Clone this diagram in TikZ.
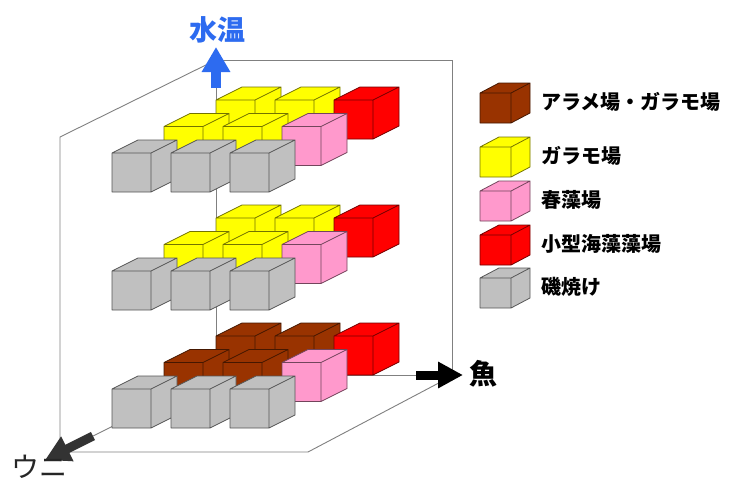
\documentclass[tikz,border=0pt]{standalone}
\usepackage{fontspec}
\newfontfamily\cjk{Noto Sans CJK JP}
\usetikzlibrary{arrows.meta}
\definecolor{cgray}{HTML}{C0C0C0}
\definecolor{cyellow}{HTML}{FFFF00}
\definecolor{cpink}{HTML}{FF99CC}
\definecolor{cred}{HTML}{FF0000}
\definecolor{cbrown}{HTML}{993300}
\definecolor{cblue}{HTML}{2D6BF0}
\definecolor{cline}{HTML}{808080}
\definecolor{cdark}{HTML}{333333}
\newcommand{\bigcube}[3]{%
  \begin{scope}[shift={(#1,#2)}]
    \filldraw[cubeline, fill=#3, draw=#3!45!black]
      (0,0) -- (39,0) -- (39,-39) -- (0,-39) -- cycle
      (0,-39) -- (26,-52) -- (65,-52) -- (39,-39) -- cycle
      (39,0) -- (65,-13) -- (65,-52) -- (39,-39) -- cycle;
  \end{scope}}
\newcommand{\legcube}[3]{%
  \begin{scope}[shift={(#1,#2)}]
    \filldraw[cubeline, fill=#3, draw=#3!45!black]
      (0,0) -- (31,0) -- (31,-30) -- (0,-30) -- cycle
      (0,-30) -- (19,-40) -- (50,-40) -- (31,-30) -- cycle
      (31,0) -- (50,-10) -- (50,-40) -- (31,-30) -- cycle;
  \end{scope}}
% one layer: #1 = y of front-bottom of front row; #2,#3 = back-row colours; #4,#5 = middle-row colours
\newcommand{\layer}[6]{%
  \bigcube{216}{#1-53}{#2}\bigcube{275}{#1-53}{#3}\bigcube{334}{#1-53}{cred}
  \bigcube{164}{#1-26.5}{#4}\bigcube{223}{#1-26.5}{#5}\bigcube{282}{#1-26.5}{cpink}
  \bigcube{112}{#1}{cgray}\bigcube{171}{#1}{cgray}\bigcube{230}{#1}{cgray}}
\tikzset{
  cubeline/.style={line width=0.8pt, line join=round},
  boxline/.style={draw=cline, line width=0.9pt},
  legtext/.style={anchor=west, inner sep=0pt, font=\cjk\bfseries\fontsize{20}{22}\selectfont},
  axislabel/.style={inner sep=0pt, font=\cjk\bfseries\fontsize{28}{30}\selectfont},
}
\begin{document}
\begin{tikzpicture}[x=1pt,y=-1pt]
\useasboundingbox[fill=white] (0,0) rectangle (737,480);
% coordinates
\coordinate (O) at (216,375);
\coordinate (Vb) at (216,88);
\coordinate (Vt) at (216,47);
\coordinate (Fb) at (416,375);
\coordinate (Ft) at (463,375);
\coordinate (Ub) at (93,436);
\coordinate (Ut) at (45,460);
\coordinate (B1) at (216,60);
\coordinate (B2) at (452,60);
\coordinate (B3) at (452,375);
\coordinate (L1) at (60,137);
\coordinate (L2) at (60,452);
\coordinate (F1) at (308,452);
\coordinate (F2) at (452,376);
% box
\draw[boxline] (B1) -- (B2) -- (B3);
\draw[boxline] (B1) -- (L1) -- (L2) -- (F1) -- (F2);
% axes
\draw[boxline] (O) -- (Vb);
\draw[boxline] (O) -- (Fb);
\draw[boxline] (O) -- (Ub);
\draw[cblue, line width=9.5pt, -{Triangle[width=27pt,length=25pt]}] (Vb) -- (Vt);
\draw[black, line width=9pt, -{Triangle[width=25pt,length=25pt]}] (Fb) -- (Ft);
\draw[cdark, line width=9pt, -{Triangle[width=26pt,length=25pt]}] (Ub) -- (Ut);
% cubes
\layer{192}{cyellow}{cyellow}{cyellow}{cyellow}{}
\layer{310}{cyellow}{cyellow}{cyellow}{cyellow}{}
\layer{428}{cbrown}{cbrown}{cbrown}{cbrown}{}
% axis labels
\node[axislabel, text=cblue] (tw) at (217,30) {水温};
\node[axislabel, text=black, anchor=west] (fish) at (469,374) {魚};
\node[inner sep=0pt, text=black!85, font=\cjk\fontsize{28}{30}\selectfont] (uni) at (40,467) {ウニ};
% legend
\legcube{480}{123}{cbrown}
\legcube{480}{177}{cyellow}
\legcube{480}{221}{cpink}
\legcube{480}{265}{cred}
\legcube{480}{308}{cgray}
\node[legtext] (l1) at (541,102) {アラメ場・ガラモ場};
\node[legtext] (l2) at (541,156) {ガラモ場};
\node[legtext] (l3) at (541,200) {春藻場};
\node[legtext] (l4) at (541,244) {小型海藻藻場};
\node[legtext] (l5) at (541,287) {磯焼け};
\end{tikzpicture}
\end{document}
